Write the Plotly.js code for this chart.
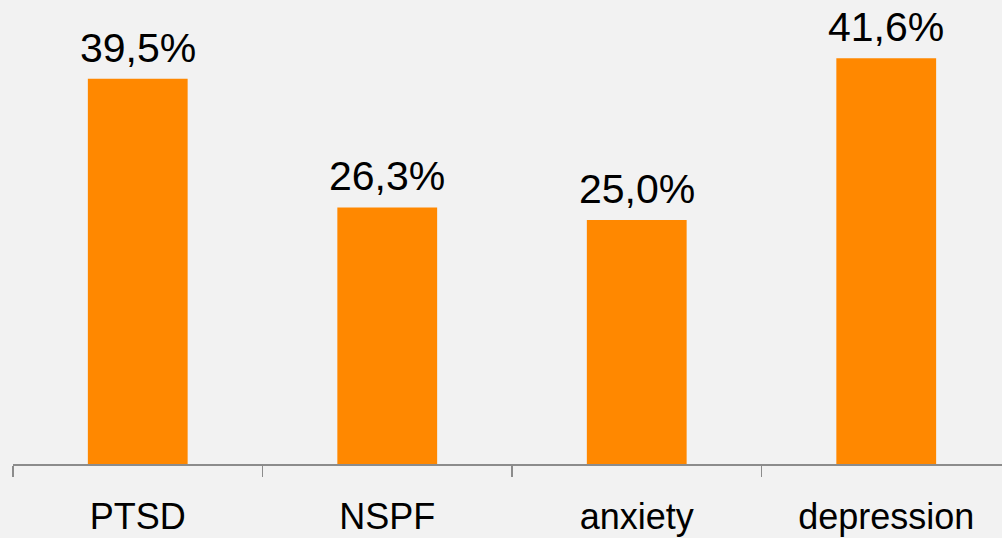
<!DOCTYPE html>
<html><head><meta charset="utf-8">
<script src="https://cdn.plot.ly/plotly-3.0.1.min.js"></script>
<style>html,body{margin:0;padding:0;background:#f2f2f2;}#chart{width:1002px;height:538px;}</style>
</head><body><div id="chart"></div>
<script>
const categories = ["PTSD", "NSPF", "anxiety", "depression"];
const values = [39.5, 26.3, 25.0, 41.6];
const labels = ["39,5%", "26,3%", "25,0%", "41,6%"];

const annotations = categories.map((c, i) => ({
  x: c, y: values[i], xref: "x", yref: "y",
  text: labels[i], showarrow: false,
  xanchor: "center", yanchor: "bottom", yshift: 6,
  font: {family: "Liberation Sans, Arial, sans-serif", size: 41, color: "#000000"}
}));

Plotly.newPlot("chart", [{
  type: "bar",
  x: categories,
  y: values,
  marker: {color: "#ff8800"},
  hoverinfo: "none"
}], {
  width: 1002, height: 538,
  paper_bgcolor: "#f2f2f2", plot_bgcolor: "#f2f2f2",
  margin: {l: 13, r: 0, t: 25, b: 74},
  bargap: 0.6,
  showlegend: false,
  annotations: annotations,
  xaxis: {
    type: "category",
    range: [-0.5, 3.464],
    tickson: "boundaries",
    ticks: "outside", ticklen: 11, tickwidth: 1.5, tickcolor: "#8c8c8c",
    showline: true, linecolor: "#8c8c8c", linewidth: 1.5,
    showgrid: false, zeroline: false,
    tickfont: {family: "Liberation Sans, Arial, sans-serif", size: 36, color: "#000000"},
    ticklabelstandoff: 20
  },
  yaxis: {
    range: [0, 45], visible: false, showgrid: false, zeroline: false
  }
}, {displayModeBar: false, staticPlot: true});
</script></body></html>
